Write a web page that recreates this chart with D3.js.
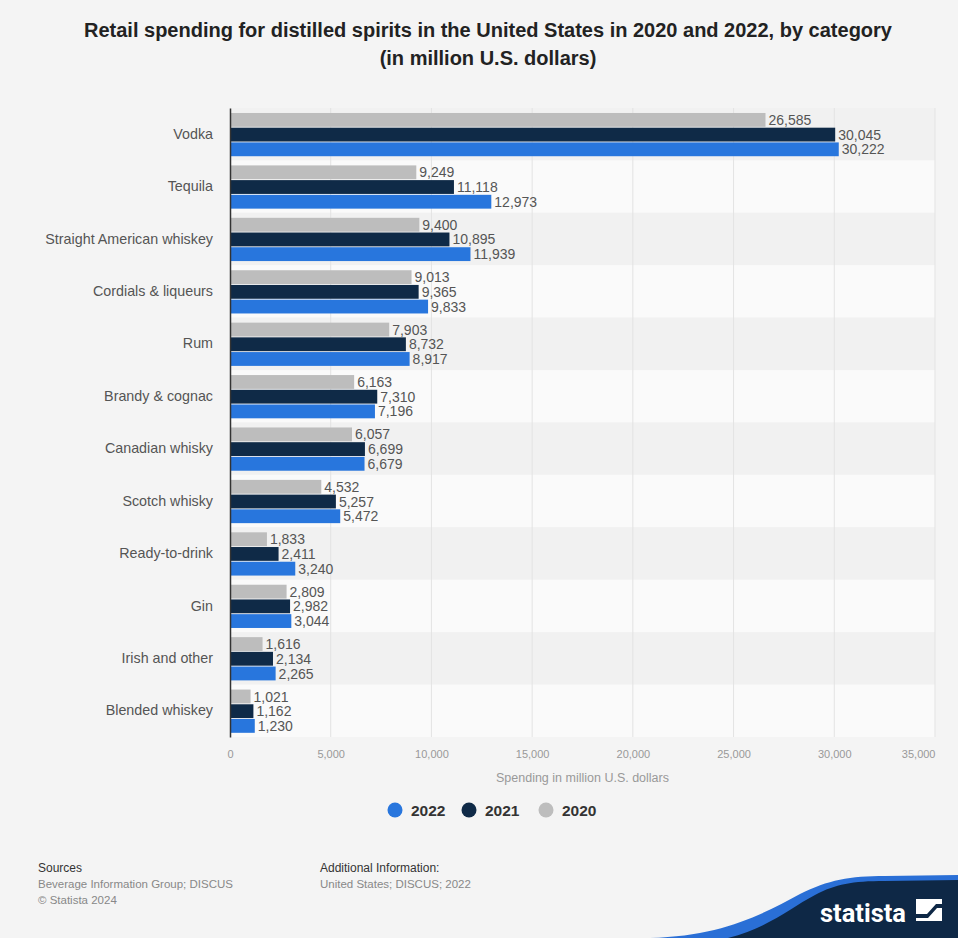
<!DOCTYPE html>
<html>
<head>
<meta charset="utf-8">
<script src="https://cdn.jsdelivr.net/npm/d3@7"></script>
<style>
  html, body { margin: 0; padding: 0; background: #f4f4f4; }
  svg { display: block; font-family: "Liberation Sans", Arial, Helvetica, sans-serif; }
</style>
</head>
<body>
<svg id="chart" width="958" height="938"></svg>
<script>
// Retail spending for distilled spirits, million U.S. dollars
const categories = [
  "Vodka", "Tequila", "Straight American whiskey", "Cordials & liqueurs", "Rum",
  "Brandy & cognac", "Canadian whisky", "Scotch whisky", "Ready-to-drink", "Gin",
  "Irish and other", "Blended whiskey"
];
const years = ["2020", "2021", "2022"];
const values2020 = [26585, 9249, 9400, 9013, 7903, 6163, 6057, 4532, 1833, 2809, 1616, 1021];
const values2021 = [30045, 11118, 10895, 9365, 8732, 7310, 6699, 5257, 2411, 2982, 2134, 1162];
const values2022 = [30222, 12973, 11939, 9833, 8917, 7196, 6679, 5472, 3240, 3044, 2265, 1230];
const xTicks = [0, 5000, 10000, 15000, 20000, 25000, 30000, 35000];
const legendYears = ["2022", "2021", "2020"];

const seriesByYear = { "2020": values2020, "2021": values2021, "2022": values2022 };
const colors = { "2022": "#2876dd", "2021": "#0f2a47", "2020": "#bdbdbd" };

const svg = d3.select("#chart");
const fmt = d3.format(",");

const plot = { left: 230, right: 935, top: 108, bottom: 737 };

const x = d3.scaleLinear().domain([0, 35000]).range([plot.left, plot.right]);
const y = d3.scaleBand().domain(categories).range([plot.top, plot.bottom]).padding(0);
const yInner = d3.scaleBand().domain(years)
  .range([y.bandwidth() * 0.095, y.bandwidth() * 0.92]).paddingInner(0.06);

// Title
svg.append("g").attr("font-weight", "bold").attr("font-size", 20).attr("fill", "#222")
  .attr("text-anchor", "middle")
  .selectAll("text")
  .data(["Retail spending for distilled spirits in the United States in 2020 and 2022, by category",
         "(in million U.S. dollars)"])
  .join("text")
  .attr("x", 488)
  .attr("y", (d, i) => 37 + i * 28)
  .text(d => d);

// Alternating row stripes
svg.append("g").selectAll("rect")
  .data(categories)
  .join("rect")
  .attr("x", plot.left)
  .attr("y", d => y(d))
  .attr("width", plot.right - plot.left)
  .attr("height", y.bandwidth())
  .attr("fill", (d, i) => i % 2 === 0 ? "#f1f1f1" : "#fafafa");

// Vertical grid lines
svg.append("g").selectAll("line")
  .data(xTicks.slice(1))
  .join("line")
  .attr("x1", d => x(d)).attr("x2", d => x(d))
  .attr("y1", plot.top).attr("y2", plot.bottom)
  .attr("stroke", "#e3e3e3").attr("stroke-width", 1);

// Bars
const rows = svg.append("g").selectAll("g")
  .data(categories)
  .join("g")
  .attr("transform", d => `translate(0,${y(d)})`);

rows.selectAll("rect")
  .data((c, i) => years.map(yr => ({ year: yr, value: seriesByYear[yr][i] })))
  .join("rect")
  .attr("x", plot.left)
  .attr("y", d => yInner(d.year))
  .attr("width", d => x(d.value) - plot.left)
  .attr("height", yInner.bandwidth())
  .attr("fill", d => colors[d.year]);

// Value labels
rows.selectAll("text")
  .data((c, i) => years.map(yr => ({ year: yr, value: seriesByYear[yr][i] })))
  .join("text")
  .attr("x", d => x(d.value) + 3)
  .attr("y", d => yInner(d.year) + yInner.bandwidth() / 2)
  .attr("dy", "0.36em")
  .attr("font-size", 14)
  .attr("fill", "#555")
  .text(d => fmt(d.value));

// Category axis
const yAxis = svg.append("g")
  .attr("transform", `translate(${plot.left},0)`)
  .call(d3.axisLeft(y).tickSize(0).tickPadding(17));
yAxis.select(".domain").attr("stroke", "#333").attr("stroke-width", 1.5);
yAxis.selectAll("text")
  .attr("font-size", 14.3)
  .attr("fill", "#555")
  .attr("font-family", "\"Liberation Sans\", Arial, sans-serif");

// Value axis
const xAxis = svg.append("g")
  .attr("transform", `translate(0,${plot.bottom})`)
  .call(d3.axisBottom(x).tickValues(xTicks).tickFormat(fmt).tickSize(0).tickPadding(13));
xAxis.select(".domain").remove();
xAxis.selectAll("text")
  .attr("font-size", 11)
  .attr("fill", "#999")
  .attr("font-family", "\"Liberation Sans\", Arial, sans-serif");
// keep the last tick label inside the plot edge
xAxis.selectAll(".tick").filter(d => d === xTicks[xTicks.length - 1])
  .select("text").attr("text-anchor", "end");

svg.append("text")
  .attr("x", (plot.left + plot.right) / 2)
  .attr("y", 782)
  .attr("text-anchor", "middle")
  .attr("font-size", 12.5)
  .attr("fill", "#999")
  .text("Spending in million U.S. dollars");

// Legend
const legendX = { "2022": 395, "2021": 469, "2020": 546 };
const legend = svg.append("g").selectAll("g")
  .data(legendYears)
  .join("g")
  .attr("transform", d => `translate(${legendX[d]},810)`);
legend.append("circle").attr("r", 7.5).attr("fill", d => colors[d]);
legend.append("text")
  .attr("x", 16).attr("dy", "0.36em")
  .attr("font-size", 15.5).attr("font-weight", "bold").attr("fill", "#333")
  .text(d => d);

// Footer
const foot = svg.append("g").attr("font-size", 11.5);
foot.append("text").attr("x", 38).attr("y", 872).attr("fill", "#333").attr("font-size", 12).text("Sources");
foot.append("text").attr("x", 38).attr("y", 888).attr("fill", "#888").text("Beverage Information Group; DISCUS");
foot.append("text").attr("x", 38).attr("y", 904).attr("fill", "#888").text("© Statista 2024");
foot.append("text").attr("x", 320).attr("y", 872).attr("fill", "#333").attr("font-size", 12).text("Additional Information:");
foot.append("text").attr("x", 320).attr("y", 888).attr("fill", "#888").text("United States; DISCUS; 2022");

// Brand corner
const brand = svg.append("g");
brand.append("path")
  .attr("d", "M650,938 C720,936 760,916 800,894 C828,880 850,876 885,876 L958,875 L958,938 Z")
  .attr("fill", "#2a6fd6");
brand.append("path")
  .attr("d", "M728,938 C768,928 790,908 815,895 C836,884 852,881 885,881 L958,880 L958,938 Z")
  .attr("fill", "#0e2846");
brand.append("text")
  .attr("x", 820).attr("y", 922)
  .attr("font-size", 26).attr("font-weight", "bold").attr("fill", "#fff")
  .attr("font-family", "\"Roboto\", \"Liberation Sans\", sans-serif")
  .attr("textLength", 86).attr("lengthAdjust", "spacingAndGlyphs")
  .text("statista");
brand.append("rect").attr("x", 916).attr("y", 899).attr("width", 26).attr("height", 22).attr("fill", "#fff");
brand.append("path")
  .attr("d", "M916,914 L927,914 L936,904 L942,904 L942,908 L937,908 L928,918 L916,918 Z")
  .attr("fill", "#0e2846");
</script>
</body>
</html>
